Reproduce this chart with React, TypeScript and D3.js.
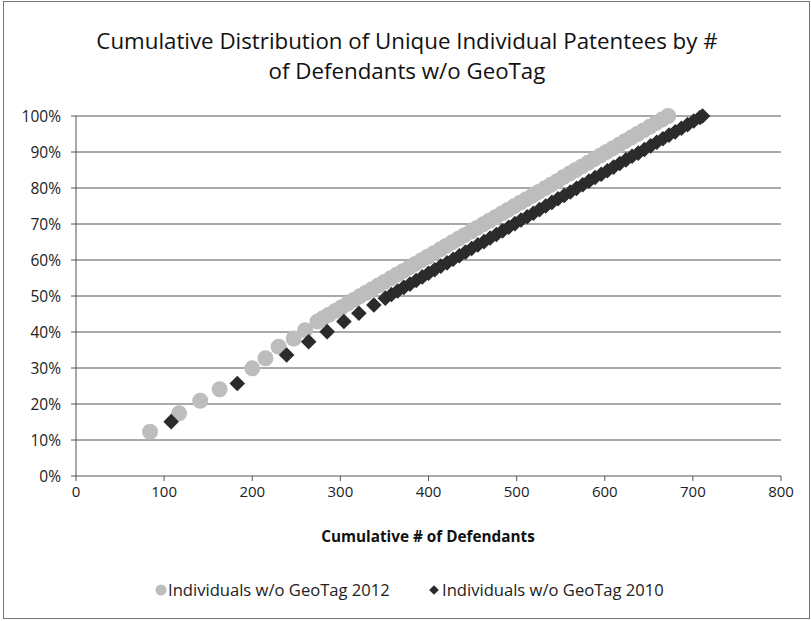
import React from "react";
import * as d3 from "d3";

const title1 = "Cumulative Distribution of Unique Individual Patentees by #";
const title2 = "of Defendants w/o GeoTag";
const xTitle = "Cumulative # of Defendants";
const xTicks = [0, 100, 200, 300, 400, 500, 600, 700, 800];
const yTicks = [0, 0.1, 0.2, 0.3, 0.4, 0.5, 0.6, 0.7, 0.8, 0.9, 1.0];
const seriesNames = ["Individuals w/o GeoTag 2012", "Individuals w/o GeoTag 2010"];

// 2012 series: cumulative defendants, cumulative % of patentees
const x2012 = [84, 117, 141, 163, 200, 215, 230, 247, 260, 274, 280, 287, 294, 301, 308, 315, 322, 329, 336, 343, 350, 357, 364, 371, 378, 385, 392, 399, 406, 413, 420, 427, 434, 441, 448, 455, 462, 469, 476, 483, 490, 497, 504, 511, 518, 525, 532, 539, 546, 553, 560, 567, 574, 581, 588, 595, 602, 609, 616, 623, 630, 637, 644, 651, 658, 665, 672];
const y2012 = [12.3, 17.4, 20.9, 24.1, 29.9, 32.7, 35.9, 38.2, 40.5, 42.9, 43.8, 44.8, 45.8, 46.8, 47.8, 48.9, 49.9, 50.9, 51.9, 52.9, 53.9, 54.9, 55.9, 56.9, 57.9, 58.9, 59.9, 60.9, 61.9, 62.9, 63.9, 64.9, 65.9, 66.9, 67.9, 68.9, 69.9, 70.9, 71.9, 72.9, 73.9, 74.9, 75.9, 76.9, 77.9, 78.9, 79.9, 80.9, 81.9, 83.0, 84.0, 85.0, 86.0, 87.0, 88.0, 89.0, 90.0, 91.0, 92.0, 93.0, 94.0, 95.0, 96.0, 97.0, 98.0, 99.0, 100.0];

// 2010 series
const x2010 = [108, 183, 239, 264, 285, 304, 321, 338, 351, 358, 365, 372, 379, 386, 393, 400, 407, 414, 421, 428, 435, 442, 449, 456, 463, 470, 477, 484, 491, 498, 505, 512, 519, 526, 533, 540, 547, 554, 561, 568, 575, 582, 589, 596, 603, 610, 617, 624, 631, 638, 645, 652, 659, 666, 673, 680, 687, 694, 701, 708, 711];
const y2010 = [15.1, 25.7, 33.6, 37.3, 40.1, 42.9, 45.2, 47.5, 49.4, 50.4, 51.4, 52.4, 53.3, 54.3, 55.3, 56.3, 57.3, 58.3, 59.2, 60.2, 61.2, 62.2, 63.2, 64.2, 65.1, 66.1, 67.1, 68.1, 69.1, 70.1, 71.1, 72.0, 73.0, 74.0, 75.0, 76.0, 77.0, 77.9, 78.9, 79.9, 80.9, 81.9, 82.9, 83.8, 84.8, 85.8, 86.8, 87.8, 88.8, 89.7, 90.7, 91.7, 92.7, 93.7, 94.7, 95.6, 96.6, 97.6, 98.6, 99.6, 100.0];

const W = 811;
const H = 621;
const FONT = "'Open Sans', 'DejaVu Sans', sans-serif";
const LIGHT = "#bdbdbd";
const DARK = "#2b2b2b";
const GRID = "#555";

export default function App() {
  const x = d3.scaleLinear().domain([0, 800]).range([76, 781]);
  const y = d3.scaleLinear().domain([0, 1]).range([476, 116]);
  const pct = d3.format(".0%");
  const diamond = d3.symbol().type(d3.symbolDiamond2).size(155)();
  const legendDiamond = d3.symbol().type(d3.symbolDiamond2).size(60)();

  return (
    <svg width={W} height={H} style={{ position: "absolute", left: 0, top: 0, background: "#fff" }}>
      <rect x={3.5} y={1.5} width={806} height={617} fill="#fff" stroke="#777" strokeWidth={1} />
      <text x={407} y={49} textAnchor="middle" fontFamily={FONT} fontSize={22.3} fill="#111">{title1}</text>
      <text x={407} y={79} textAnchor="middle" fontFamily={FONT} fontSize={22.3} fill="#111">{title2}</text>

      {yTicks.map((t) => (
        <g key={"y" + t}>
          <line x1={71} x2={781} y1={y(t)} y2={y(t)} stroke={GRID} strokeWidth={1} />
          <text x={61} y={y(t) + 5.5} textAnchor="end" fontFamily={FONT} fontSize={15.5} fill="#222">{pct(t)}</text>
        </g>
      ))}
      <line x1={76} x2={76} y1={116} y2={476} stroke={GRID} strokeWidth={1} />
      {xTicks.map((t) => (
        <g key={"x" + t}>
          <line x1={x(t)} x2={x(t)} y1={476} y2={481} stroke={GRID} strokeWidth={1} />
          <text x={x(t)} y={497} textAnchor="middle" fontFamily={FONT} fontSize={15} fill="#222">{t}</text>
        </g>
      ))}
      <text x={428} y={542} textAnchor="middle" fontFamily={FONT} fontSize={15.3} fontWeight="bold" fill="#111">{xTitle}</text>

      <g>
        {x2012.map((v, i) => (
          <circle key={"a" + i} cx={x(v)} cy={y(y2012[i] / 100)} r={8} fill={LIGHT} />
        ))}
      </g>
      <g>
        {x2010.map((v, i) => (
          <path key={"b" + i} d={diamond || ""} transform={`translate(${x(v)},${y(y2010[i] / 100)})`} fill={DARK} />
        ))}
      </g>

      <g>
        <circle cx={161} cy={590} r={5.5} fill={LIGHT} />
        <text x={168} y={596} fontFamily={FONT} fontSize={16.6} fill="#222">{seriesNames[0]}</text>
        <path d={legendDiamond || ""} transform="translate(434,590)" fill={DARK} />
        <text x={442} y={596} fontFamily={FONT} fontSize={16.6} fill="#222">{seriesNames[1]}</text>
      </g>
    </svg>
  );
}
